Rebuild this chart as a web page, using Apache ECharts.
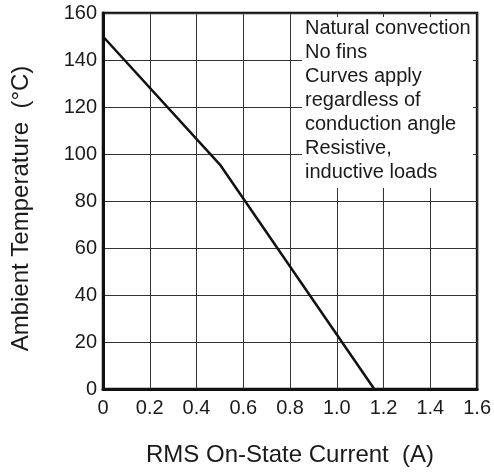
<!DOCTYPE html>
<html>
<head>
<meta charset="utf-8">
<script src="https://cdn.jsdelivr.net/npm/echarts@6/dist/echarts.min.js"></script>
<style>
html,body{margin:0;padding:0;background:#fff;}
#chart{width:494px;height:472px;}
</style>
</head>
<body>
<div id="chart"></div>
<script>
// Data
const currentA = [0, 0.5, 1.16];
const ambientC = [150, 95.5, 0];
const xTicks = ['0', '0.2', '0.4', '0.6', '0.8', '1.0', '1.2', '1.4', '1.6'];
const noteLines = ['Natural convection', 'No fins', 'Curves apply', 'regardless of', 'conduction angle', 'Resistive,', 'inductive loads'];
const xName = 'RMS On-State Current  (A)';
const yName = 'Ambient Temperature  (°C)';

const FONT = "'Liberation Sans', Arial, sans-serif";
const chart = echarts.init(document.getElementById('chart'), null, {renderer: 'canvas'});
const seriesData = currentA.map((x, i) => [x, ambientC[i]]);

chart.setOption({
  animation: false,
  backgroundColor: '#fff',
  grid: {
    left: 103, right: 13, top: 13, bottom: 82,
    show: true, borderColor: '#111', borderWidth: 2.5, backgroundColor: 'transparent'
  },
  xAxis: {
    type: 'value', min: 0, max: 1.6, interval: 0.2,
    name: xName, nameLocation: 'middle', nameGap: 54,
    nameTextStyle: {fontFamily: FONT, fontSize: 24, color: '#1a1a1a'},
    axisLine: {show: true, onZero: false, lineStyle: {color: '#111', width: 3}},
    axisTick: {show: false},
    axisLabel: {
      fontFamily: FONT, fontSize: 20, color: '#1a1a1a', margin: 9,
      formatter: (v) => xTicks[Math.round(v / 0.2)],
      showMaxLabel: true, showMinLabel: true, hideOverlap: false
    },
    splitLine: {show: true, lineStyle: {color: '#333', width: 1}}
  },
  yAxis: {
    type: 'value', min: 0, max: 160, interval: 20,
    name: yName, nameLocation: 'middle', nameGap: 70, nameRotate: 90,
    nameTextStyle: {fontFamily: FONT, fontSize: 24, color: '#1a1a1a', padding: [0, 15, 0, 0]},
    axisLine: {show: true, onZero: false, lineStyle: {color: '#111', width: 3}},
    axisTick: {show: false},
    axisLabel: {fontFamily: FONT, fontSize: 20, color: '#1a1a1a', margin: 6,
      showMaxLabel: true, showMinLabel: true},
    splitLine: {show: true, lineStyle: {color: '#333', width: 1}}
  },
  series: [{
    type: 'line',
    data: seriesData,
    symbol: 'none',
    lineStyle: {color: '#111', width: 2.5},
    z: 5
  }],
  graphic: [
    {type: 'rect', z: 50, shape: {x: 302, y: 17, width: 171, height: 171}, style: {fill: '#fff'}},
    {type: 'text', z: 51, x: 305, y: 16,
     style: {text: noteLines.join('\n'), font: '20px ' + FONT, fill: '#1a1a1a', lineHeight: 24,
             textAlign: 'left', textVerticalAlign: 'top'}}
  ]
});
</script>
</body>
</html>
